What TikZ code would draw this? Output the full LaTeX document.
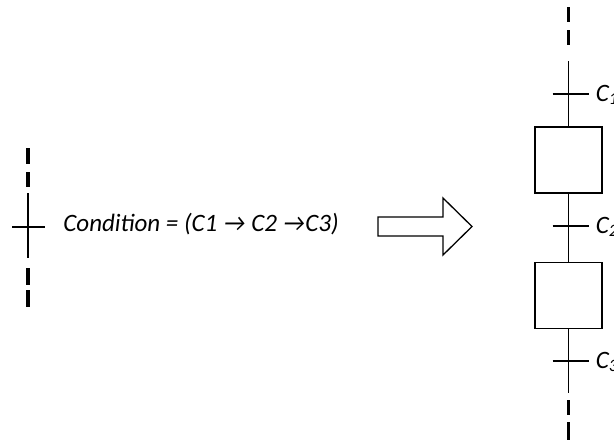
\documentclass[tikz,border=0pt]{standalone}
\usepackage{fontspec}
\setmainfont{Carlito}
\usetikzlibrary{positioning}

\tikzset{
    stepbox/.style={draw,line width=0.9pt,minimum width=33.5pt,minimum height=33pt,inner sep=0pt},
    link/.style={line width=0.95pt},
    dashpart/.style={line width=1.7pt},
    cond/.style={font=\fontsize{12.5}{15}\selectfont\itshape,inner sep=0pt},
}

\begin{document}
\begin{tikzpicture}[x=0.5pt,y=-0.5pt]
    \useasboundingbox (0,0) rectangle (614,440);
    % single transition with compound condition
    \coordinate (ltop) at (28,193);
    \coordinate (lbot) at (28,258);
    \coordinate (lt) at (28,227);
    \draw[dashpart] (28,148) -- (28,164) (28,172) -- (28,187);
    \draw[link] (ltop) -- (lbot);
    \draw[link] ([xshift=-8pt]lt) -- ([xshift=8.5pt]lt);
    \draw[dashpart] (28,268) -- (28,285) (28,290) -- (28,307);
    \node[cond,anchor=base west] (condtext) at (63,231) {Condition = (C1 → C2 →C3)};

    % block arrow
    \draw[line width=0.65pt] (378,217) -- (443,217) -- (443,198) -- (472,226.5)
        -- (443,255) -- (443,236) -- (378,236) -- cycle;

    % equivalent sequence
    \node[stepbox] (step1) at (568.5,160) {};
    \node[stepbox] (step2) at (568.5,295.5) {};
    \coordinate (rtop) at (568.5,61);
    \coordinate (rbot) at (568.5,393);
    \coordinate (t1) at (568.5,94);
    \coordinate (t2) at (568.5,226);
    \coordinate (t3) at (568.5,361);
    \draw[dashpart] (568.5,7) -- (568.5,22) (568.5,30) -- (568.5,45);
    \draw[link] (rtop) -- (step1.north);
    \draw[link] (step1.south) -- (step2.north);
    \draw[link] (step2.south) -- (rbot);
    \draw[dashpart] (568.5,400) -- (568.5,415) (568.5,422) -- (568.5,440);
    \foreach \i in {1,2,3}{
        \draw[link] ([xshift=-8pt]t\i) -- ([xshift=10pt]t\i);
        \node[cond,anchor=west] (c\i) at ([xshift=13.5pt,yshift=-0.5pt]t\i) {C\textsubscript{\i}};
    }
\end{tikzpicture}
\end{document}
